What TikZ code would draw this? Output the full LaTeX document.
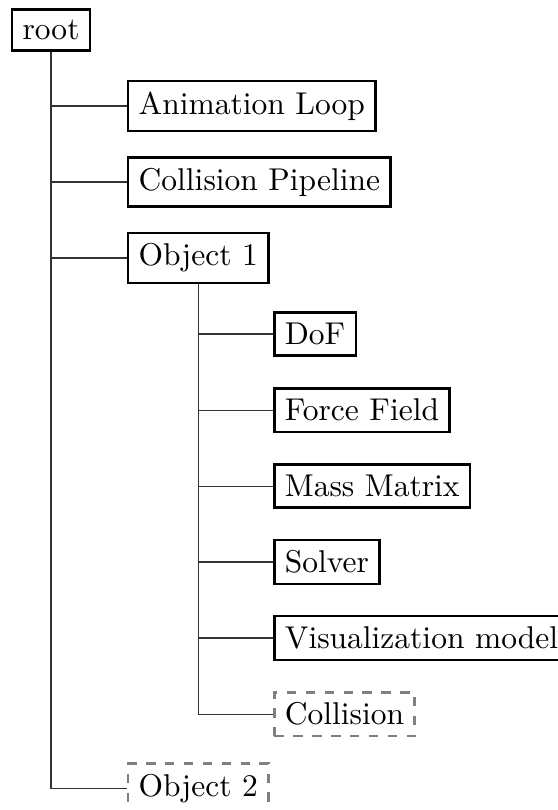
\documentclass[tikz,border=0pt]{standalone}
\usepackage{tikz}

\begin{document}
\begin{tikzpicture}[
  x=1pt, y=1pt,
  box/.style={draw,thick,anchor=west},
  ghost/.style={draw=gray,dashed,thick,anchor=west},
  edge/.style={draw,black!80}
]
  \useasboundingbox (0,0) rectangle (176.8,-257.1);
  \node[draw,thick] (root) at (16.2,-9.52) {root};
  \node[box] (anim) at (40.3,-33.65) {Animation Loop};
  \node[box] (pipe) at (40.3,-57.78) {Collision Pipeline};
  \node[box] (obj1) at (40.3,-81.9) {Object 1};
  \node[box] (dof) at (86.7,-106.0) {DoF};
  \node[box] (ff) at (86.7,-130.2) {Force Field};
  \node[box] (mass) at (86.7,-154.3) {Mass Matrix};
  \node[box] (solver) at (86.7,-178.4) {Solver};
  \node[box] (visu) at (86.7,-202.5) {Visualization model};
  \node[ghost] (coll) at (86.7,-226.7) {Collision};
  \node[ghost] (obj2) at (40.3,-250.2) {Object 2};
  \draw[edge] (root.south) |- (anim.west);
  \draw[edge] (root.south) |- (pipe.west);
  \draw[edge] (root.south) |- (obj1.west);
  \draw[edge] (root.south) |- (obj2.west);
  \draw[edge] (obj1.south) |- (dof.west);
  \draw[edge] (obj1.south) |- (ff.west);
  \draw[edge] (obj1.south) |- (mass.west);
  \draw[edge] (obj1.south) |- (solver.west);
  \draw[edge] (obj1.south) |- (visu.west);
  \draw[edge] (obj1.south) |- (coll.west);
\end{tikzpicture}
\end{document}
